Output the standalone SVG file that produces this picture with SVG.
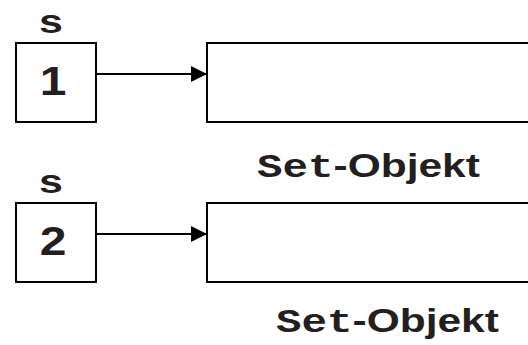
<svg xmlns="http://www.w3.org/2000/svg" width="528" height="345" viewBox="0 0 528 345">
  <defs>
    <style>
      .box { fill: #ffffff; stroke: #000000; stroke-width: 2; }
      .edge { fill: none; stroke: #000000; stroke-width: 2; }
      .lbl { font-family: "Liberation Sans", Arial, sans-serif; font-weight: bold; fill: #231f20; }
      .mono { font-family: "Liberation Mono", "Courier New", monospace; font-weight: bold; }
    </style>
    <marker id="arrow" markerUnits="userSpaceOnUse" markerWidth="16" markerHeight="16" refX="16" refY="8" orient="auto">
      <path d="M0,0 L16,8 L0,16 Z" fill="#000000"/>
    </marker>
  </defs>
  <rect width="528" height="345" fill="#ffffff"/>

  <g id="var-s1">
    <text class="lbl" font-size="33" text-anchor="middle" transform="translate(51,33) scale(1.3,1)">s</text>
    <rect class="box" x="16" y="43" width="80" height="79"/>
    <text class="lbl" font-size="40" text-anchor="middle" transform="translate(53,95) scale(1.2,1)">1</text>
  </g>
  <g id="set-obj1">
    <rect class="box" x="207" y="43" width="340" height="79"/>
    <text class="lbl" font-size="34" transform="translate(257,177) scale(1.25,1)"><tspan class="mono" font-family="'Liberation Mono', 'Courier New', monospace">Set</tspan>-Objekt</text>
  </g>

  <g id="var-s2">
    <text class="lbl" font-size="33" text-anchor="middle" transform="translate(51,193) scale(1.3,1)">s</text>
    <rect class="box" x="16" y="203" width="80" height="79"/>
    <text class="lbl" font-size="40" text-anchor="middle" transform="translate(53,255) scale(1.2,1)">2</text>
  </g>
  <g id="set-obj2">
    <rect class="box" x="207" y="203" width="340" height="79"/>
    <text class="lbl" font-size="34" transform="translate(276,332) scale(1.25,1)"><tspan class="mono" font-family="'Liberation Mono', 'Courier New', monospace">Set</tspan>-Objekt</text>
  </g>

  <g id="connectors">
    <line class="edge" x1="96" y1="74" x2="207" y2="74" marker-end="url(#arrow)"/>
    <line class="edge" x1="96" y1="234" x2="207" y2="234" marker-end="url(#arrow)"/>
  </g>
</svg>
